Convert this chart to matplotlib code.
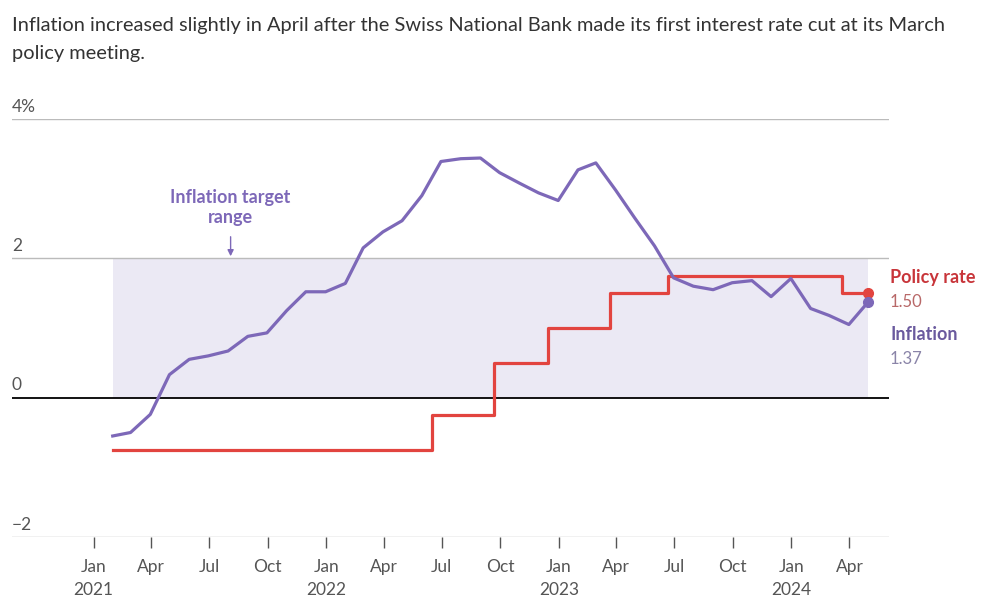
import matplotlib
matplotlib.use("Agg")
import matplotlib.pyplot as plt
import matplotlib.transforms as mtransforms
import pandas as pd

# --- data ---
# Swiss CPI, year-on-year %, Jan 2021 .. Apr 2024 (plotted at month end)
inflation = [-0.55, -0.50, -0.24, 0.33, 0.55, 0.60, 0.67, 0.88, 0.93, 1.25, 1.52, 1.52,
             1.64, 2.15, 2.38, 2.54, 2.90, 3.39, 3.43, 3.44, 3.23, 3.08, 2.94, 2.83,
             3.27, 3.37, 2.98, 2.58, 2.18, 1.72, 1.60, 1.55, 1.65, 1.68, 1.45, 1.71,
             1.28, 1.18, 1.05, 1.37]
months = pd.date_range("2021-01-31", periods=len(inflation), freq="ME")

# SNB policy rate decisions
rate_dates = pd.to_datetime(["2021-01-31", "2022-06-16", "2022-09-22", "2022-12-15",
                             "2023-03-23", "2023-06-22", "2024-03-21", "2024-04-30"])
rate_values = [-0.75, -0.25, 0.50, 1.00, 1.50, 1.75, 1.50, 1.50]

target_low, target_high = 0, 2
yticks = [-2, 0, 2, 4]
ytick_labels = ["\u22122", "0", "2", "4%"]
quarter_ticks = pd.date_range("2021-01-01", "2024-04-01", freq="QS")

title = ("Inflation increased slightly in April after the Swiss National Bank made its first interest rate cut at its March\n"
         "policy meeting.")

purple = "#7d68b8"
red = "#e2443f"
shade = "#ebe9f4"
grey_txt = "#555555"

plt.rcParams["font.family"] = ["Lato", "DejaVu Sans"]

fig = plt.figure(figsize=(9.93, 6.08), dpi=100)
ax = fig.add_axes([12 / 993, (608 - 537) / 608, (889 - 12) / 993, (537 - 119) / 608])

ax.set_xlim(pd.Timestamp("2020-08-26"), pd.Timestamp("2024-06-02"))
ax.set_ylim(-2, 4)

# target range band
ax.fill_between([months[0], months[-1]], target_low, target_high, color=shade, lw=0, zorder=0)

# grid lines
for v in yticks:
    ax.axhline(v, color="black" if v == 0 else "#bbbbbb", lw=1.3 if v == 0 else 1.0, zorder=1)

ax.plot(rate_dates, rate_values, drawstyle="steps-post", color=red, lw=2.3, zorder=3)
ax.plot(months, inflation, color=purple, lw=2.3, zorder=4)
ax.plot(rate_dates[-1], rate_values[-1], "o", color=red, ms=7, zorder=5)
ax.plot(months[-1], inflation[-1], "o", color=purple, ms=7, zorder=5)

# y labels above grid lines
trans = mtransforms.blended_transform_factory(ax.transAxes, ax.transData)
for v, lab in zip(yticks, ytick_labels):
    ax.text(0, v + 0.06, lab, transform=trans, ha="left", va="bottom", fontsize=12.5,
            color=grey_txt)

# x ticks
ax.set_xticks(quarter_ticks)
xlabels = [d.strftime("%b") + ("\n" + d.strftime("%Y") if d.month == 1 else "") for d in quarter_ticks]
ax.set_xticklabels(xlabels, fontsize=12.5, color=grey_txt, linespacing=1.5)
ax.tick_params(axis="x", length=8, width=1, color="#555555", pad=8)
ax.tick_params(axis="y", left=False, labelleft=False)
for s in ax.spines.values():
    s.set_visible(False)

# annotations
label_x = pd.Timestamp("2021-08-04")
ax.text(label_x, 2.73, "Inflation target\nrange", ha="center", va="center",
        fontsize=13, fontweight="bold", color=purple, linespacing=1.25)
ax.annotate("", xy=(label_x, 2.03), xytext=(label_x, 2.31),
            arrowprops=dict(arrowstyle="-|>", color=purple, lw=1, mutation_scale=9,
                            shrinkA=0, shrinkB=0))

ax.text(890 / 993, (608 - 278) / 608, "Policy rate", transform=fig.transFigure, ha="left",
        va="center", fontsize=13, fontweight="bold", color="#c8353a")
ax.text(890 / 993, (608 - 302) / 608, f"{rate_values[-1]:.2f}", transform=fig.transFigure,
        ha="left", va="center", fontsize=12, color="#b86868")
ax.text(890 / 993, (608 - 335) / 608, "Inflation", transform=fig.transFigure, ha="left",
        va="center", fontsize=13, fontweight="bold", color="#6a5a9e")
ax.text(890 / 993, (608 - 359) / 608, f"{inflation[-1]:.2f}", transform=fig.transFigure,
        ha="left", va="center", fontsize=12, color="#8a84a8")

fig.text(12 / 993, 1 - 17 / 608, title, ha="left", va="top", fontsize=14.4, color="#333333",
         linespacing=1.75)

fig.savefig("out.png", dpi=100)
